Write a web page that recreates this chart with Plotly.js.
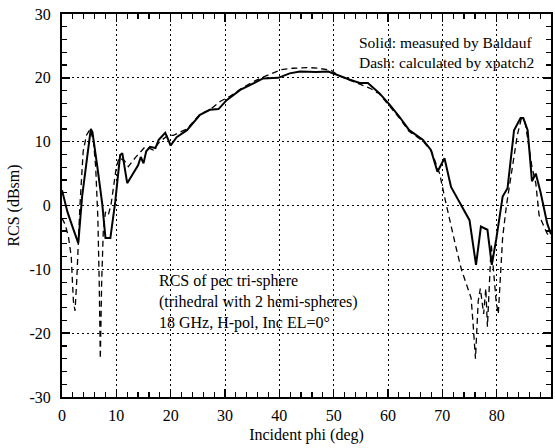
<!DOCTYPE html>
<html>
<head>
<meta charset="utf-8">
<script src="https://cdn.plot.ly/plotly-3.0.1.min.js"></script>
<style>html,body{margin:0;padding:0;background:#fff;}#chart{width:555px;height:448px;}</style>
</head>
<body>
<div id="chart"></div>
<script>
// Measured (solid) RCS vs incident phi
var phiMeas = [0, 1, 2, 3.0, 3.7, 4.5, 5.3, 5.6, 6.1, 6.5, 7.4, 8.0, 8.9, 9.8, 10.7, 11.1, 12.0, 13.0, 14.0, 14.5, 15.0, 15.5, 16.2, 17.2, 17.8, 19.0, 20.0, 21.1, 23.0, 25.4, 27.2, 28.8, 30.3, 32.8, 35.2, 37.0, 39.8, 41.9, 43.8, 46.8, 49.0, 50.5, 53.0, 54.8, 56.3, 58.4, 60.3, 62.1, 63.9, 66.4, 67.9, 69.1, 70.4, 71.6, 73.7, 75.0, 76.2, 77.1, 78.3, 79.1, 79.9, 81.1, 82.0, 83.2, 84.4, 84.9, 85.7, 86.5, 87.2, 88.1, 89.3, 90];
var rcsMeas = [2.4, -1, -3.5, -5.9, 1.4, 6.5, 12.0, 11.5, 8.7, 6.1, 0.3, -5.1, -5.1, 0.6, 7.9, 8.2, 3.5, 5.0, 6.3, 7.6, 6.6, 8.5, 9.2, 9.0, 10.3, 11.4, 9.4, 10.7, 11.8, 14.2, 15.0, 15.1, 16.5, 18.1, 19.2, 19.9, 20.0, 20.7, 21.0, 20.9, 21.0, 20.5, 19.7, 19.2, 19.2, 17.6, 15.8, 13.9, 11.8, 10.3, 8.7, 5.3, 7.4, 2.9, -0.2, -2.3, -9.3, -3.3, -3.8, -9.3, -5.4, 1.4, 2.7, 11.8, 13.7, 13.7, 11.8, 3.8, 5.0, 2.0, -2.8, -4.5];

// Calculated (dashed) RCS vs incident phi
var phiCalc = [0, 0.6, 1.2, 1.7, 2.1, 2.4, 2.7, 2.9, 3.3, 3.9, 4.5, 5.2, 5.8, 6.2, 6.6, 6.85, 7.05, 7.3, 7.6, 8.0, 8.5, 9.0, 9.5, 10.0, 10.5, 11.5, 12.2, 13.5, 15.3, 16.8, 18.0, 19.5, 20.5, 23, 25.4, 27.2, 29.1, 30.9, 32.8, 35.2, 37, 38.6, 40.4, 42.5, 45.6, 47.1, 49.5, 51, 53, 55, 56.6, 58.4, 60.3, 62.1, 63.9, 66.4, 68, 69.5, 70.5, 71.5, 72.5, 73.5, 74.5, 75.3, 75.7, 76.1, 76.6, 77.0, 77.6, 78.0, 78.3, 78.7, 79.0, 79.4, 79.9, 80.3, 80.7, 81.1, 81.8, 82.5, 83.2, 83.8, 84.5, 85.2, 85.8, 86.5, 87.2, 87.8, 88.7, 89.3, 90];
var rcsCalc = [-2, -3, -5, -8, -15, -16.5, -12, -7.5, 0, 8.5, 11, 12, 10, 6, -2, -12, -24, -12, -4, -1, -1.5, 0, 3, 6, 7.5, 7, 6.1, 7.5, 9.2, 8.7, 10, 11, 11, 12, 14.3, 15, 16.3, 17.1, 18.2, 19.4, 20.1, 20.7, 21.3, 21.5, 21.6, 21.5, 21.2, 20.3, 19.6, 19, 18.4, 17.5, 15.6, 13.7, 11.6, 10.1, 8.5, 5, 1, -3, -6.5, -10, -12.7, -14.5, -19, -24, -15, -13, -17, -13, -19, -11, -6, -10, -15, -17, -11, -5, 0, 4, 8.2, 11, 13.5, 13.2, 10, 6, 3.5, -1.5, -3.3, -4.4, -5];

var xTicks = [0, 10, 20, 30, 40, 50, 60, 70, 80, 90];
var yTicks = [-30, -20, -10, 0, 10, 20, 30];

var FONT = 'Liberation Serif, Times New Roman, serif';

var traces = [
  {x: phiMeas, y: rcsMeas, mode: 'lines', line: {color: '#000', width: 2}, showlegend: false, hoverinfo: 'skip'},
  {x: phiCalc, y: rcsCalc, mode: 'lines', line: {color: '#000', width: 1.3, dash: '6px,4px'}, showlegend: false, hoverinfo: 'skip'},
  // invisible copy on the mirrored (top/right) axes so their inside ticks are drawn
  {x: phiMeas, y: rcsMeas, xaxis: 'x2', yaxis: 'y2', mode: 'lines', line: {color: 'rgba(0,0,0,0)', width: 0}, showlegend: false, hoverinfo: 'skip'}
];

var tickCommon = {
  ticks: 'inside', ticklen: 8, tickwidth: 1.5, tickcolor: '#000',
  minor: {ticks: 'inside', ticklen: 5, tickwidth: 1.2, tickcolor: '#000', dtick: 2, showgrid: false}
};

var axisCommon = Object.assign({
  showline: true, linecolor: '#000', linewidth: 2, mirror: true,
  showgrid: true, gridcolor: '#000', gridwidth: 1, griddash: '2px,3px',
  zeroline: false,
  tickfont: {family: FONT, size: 16, color: '#000'}
}, tickCommon);

var layout = {
  width: 555, height: 448,
  margin: {l: 62, r: 4, t: 14, b: 51},
  paper_bgcolor: '#fff', plot_bgcolor: '#fff',
  font: {family: FONT, color: '#000'},
  xaxis: Object.assign({}, axisCommon, {
    range: [0, 90], tickvals: xTicks, ticktext: xTicks.map(String),
    ticklabelstandoff: 3,
    title: {text: 'Incident phi (deg)', font: {family: FONT, size: 16, color: '#000'}, standoff: 6}
  }),
  yaxis: Object.assign({}, axisCommon, {
    range: [-30, 30], tickvals: yTicks, ticktext: yTicks.map(String),
    ticklabelstandoff: 6,
    title: {text: 'RCS (dBsm)', font: {family: FONT, size: 16, color: '#000'}, standoff: 6}
  }),
  xaxis2: Object.assign({}, tickCommon, {
    overlaying: 'x', side: 'top', range: [0, 90], tickvals: xTicks,
    showticklabels: false, showgrid: false, zeroline: false, showline: false
  }),
  yaxis2: Object.assign({}, tickCommon, {
    overlaying: 'y', side: 'right', range: [-30, 30], tickvals: yTicks,
    showticklabels: false, showgrid: false, zeroline: false, showline: false
  }),
  annotations: [
    {xref: 'x', yref: 'y', x: 54.3, y: 24.0, xanchor: 'left', yanchor: 'middle', align: 'left', showarrow: false,
     text: 'Solid: measured by Baldauf<br>Dash: calculated by xpatch2', font: {family: FONT, size: 15.5, color: '#000'}},
    {xref: 'x', yref: 'y', x: 17.4, y: -15.1, xanchor: 'left', yanchor: 'middle', align: 'left', showarrow: false,
     text: 'RCS of pec tri-sphere<br>(trihedral with 2 hemi-spheres)<br>18 GHz, H-pol, Inc EL=0°', font: {family: FONT, size: 16, color: '#000'}}
  ]
};

Plotly.newPlot('chart', traces, layout, {staticPlot: true, displayModeBar: false});
</script>
</body>
</html>
